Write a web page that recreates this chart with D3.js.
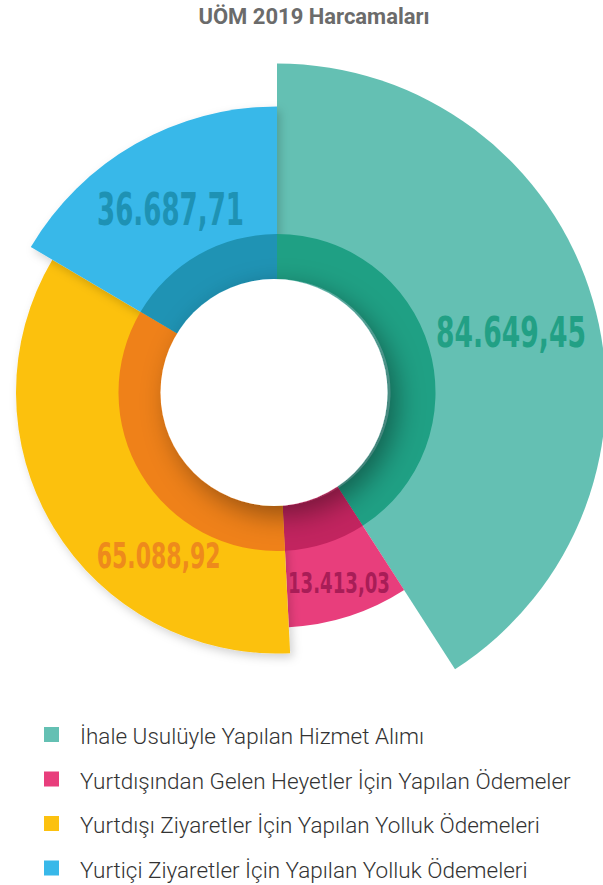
<!DOCTYPE html>
<html>
<head>
<meta charset="utf-8">
<script src="https://cdn.jsdelivr.net/npm/d3@7"></script>
<style>
  html, body { margin: 0; padding: 0; background: #fff; }
  svg { display: block; }
</style>
</head>
<body>
<div id="dataviz"></div>
<script>
"use strict";

// Chart data
var categories = [
    "İhale Usulüyle Yapılan Hizmet Alımı",
    "Yurtdışından Gelen Heyetler İçin Yapılan Ödemeler",
    "Yurtdışı Ziyaretler İçin Yapılan Yolluk Ödemeleri",
    "Yurtiçi Ziyaretler İçin Yapılan Yolluk Ödemeleri"
];
var amounts = [84649.45, 13413.03, 65088.92, 36687.71];
var valueLabels = ["84.649,45", "13.413,03", "65.088,92", "36.687,71"];
// slice share (%) as drawn in the picture
var sliceShare = [40.9, 8.3, 34.3, 16.5];
// outer radius of each petal as drawn (relative size)
var sliceSize = [329, 235, 261, 286];

var outerColors = ["#64c0b3", "#e83e7c", "#fcc10f", "#38b8e9"];
var ringColors = ["#1fa084", "#c2245f", "#ef8119", "#1f93b4"];
var labelColors = ["#22a085", "#a81d57", "#ee8a1c", "#1e92b4"];

function renderChart(){

    var width = 603, height = 885;
    var cx = 277, cy = 392.5;
    var innerR = 113.5, ringR = 158.5;

    var svg = d3.select("#dataviz").append("svg")
        .attr("width", width)
        .attr("height", height);

    var defs = svg.append("defs");
    var sh = defs.append("filter").attr("id", "shadow")
        .attr("x", "-30%").attr("y", "-30%").attr("width", "160%").attr("height", "160%");
    sh.append("feDropShadow")
        .attr("dx", 3).attr("dy", 4)
        .attr("stdDeviation", 5)
        .attr("flood-color", "#000")
        .attr("flood-opacity", 0.18);

    var hole = defs.append("filter").attr("id", "holeShadow")
        .attr("x", "-50%").attr("y", "-50%").attr("width", "200%").attr("height", "200%");
    hole.append("feDropShadow")
        .attr("dx", 9).attr("dy", 9)
        .attr("stdDeviation", 14)
        .attr("flood-color", "#000")
        .attr("flood-opacity", 0.4);

    // clip so the hole shadow stays inside the ring
    defs.append("clipPath").attr("id", "ringClip")
        .append("circle").attr("cx", 0).attr("cy", 0).attr("r", ringR);

    // Title
    svg.append("text")
        .attr("x", 314)
        .attr("y", 24)
        .attr("text-anchor", "middle")
        .style("font-family", "Roboto, sans-serif")
        .style("font-weight", 700)
        .style("font-size", "22px")
        .attr("fill", "#6b6b6b")
        .text("UÖM 2019 Harcamaları");

    var pie = d3.pie().sort(null).value(function(d){ return d; });
    var slices = pie(sliceShare);

    var rScale = d3.scaleLinear().domain([0, 329]).range([0, 329]);

    var g = svg.append("g")
        .attr("transform", "translate(" + cx + "," + cy + ")");

    // Outer petals (blue & yellow cast a soft shadow)
    slices.forEach(function(s, i){
        var arc = d3.arc().innerRadius(0).outerRadius(rScale(sliceSize[i]));
        g.append("path")
            .attr("d", arc(s))
            .attr("fill", outerColors[i])
            .attr("filter", (i >= 2) ? "url(#shadow)" : null);
    });

    // Inner ring
    var ringArc = d3.arc().innerRadius(innerR).outerRadius(ringR);
    g.selectAll("path.ring")
        .data(slices)
        .enter().append("path")
        .attr("class", "ring")
        .attr("d", ringArc)
        .attr("fill", function(d, i){ return ringColors[i]; });

    // Hole
    g.append("g").attr("clip-path", "url(#ringClip)")
        .append("circle")
        .attr("cx", -3)
        .attr("cy", 0)
        .attr("r", innerR)
        .attr("fill", "#fff")
        .attr("filter", "url(#holeShadow)");

    // Value labels (condensed: squeezed horizontally to the width in the picture)
    var labelPos = [
        {x: 511, y: 346.5, w: 150, size: 42},
        {x: 339, y: 593, w: 102, size: 29},
        {x: 158.7, y: 568, w: 124, size: 35},
        {x: 170.5, y: 225, w: 147, size: 44}
    ];
    svg.selectAll("text.val")
        .data(valueLabels)
        .enter().append("text")
        .attr("class", "val")
        .attr("text-anchor", "middle")
        .style("font-family", "'DejaVu Sans Condensed', 'Liberation Sans Narrow', sans-serif")
        .style("font-weight", 700)
        .style("font-size", function(d, i){ return labelPos[i].size + "px"; })
        .attr("fill", function(d, i){ return labelColors[i]; })
        .text(function(d){ return d; })
        .attr("transform", function(d, i){
            var len = this.getComputedTextLength();
            var sx = labelPos[i].w / len;
            return "translate(" + labelPos[i].x + "," + labelPos[i].y + ")scale(" + sx + ",1)";
        });

    // Legend
    var rows = svg.append("g").selectAll("g.row")
        .data(categories)
        .enter().append("g")
        .attr("class", "row")
        .attr("transform", function(d, i){ return "translate(0," + (744 + i * 44.5) + ")"; });

    rows.append("rect")
        .attr("x", 44)
        .attr("y", -17)
        .attr("width", 15)
        .attr("height", 15)
        .attr("fill", function(d, i){ return outerColors[i]; });

    rows.append("text")
        .attr("x", 80)
        .attr("y", 0)
        .style("font-family", "Roboto, sans-serif")
        .style("font-weight", 300)
        .style("font-size", "22.5px")
        .attr("fill", "#333")
        .text(function(d){ return d; });
}

renderChart();
</script>
</body>
</html>
